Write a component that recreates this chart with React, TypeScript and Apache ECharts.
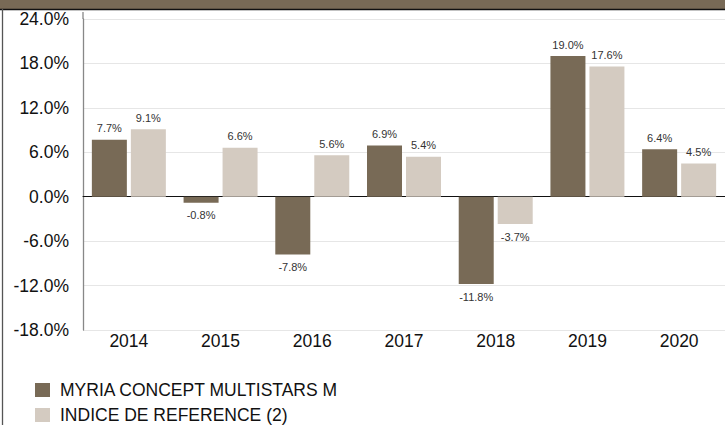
import React, { useEffect, useRef } from "react";
import * as echarts from "echarts";

const years = ["2014", "2015", "2016", "2017", "2018", "2019", "2020"];
const fundName = "MYRIA CONCEPT MULTISTARS M";
const indexName = "INDICE DE REFERENCE (2)";
const fundValues = [7.7, -0.8, -7.8, 6.9, -11.8, 19.0, 6.4];
const indexValues = [9.1, 6.6, 5.6, 5.4, -3.7, 17.6, 4.5];

const DARK = "#786a56";
const LIGHT = "#d4cbc1";
const FONT = "'Liberation Sans', Arial, sans-serif";

const toData = (vals: number[]) =>
  vals.map((v) => ({
    value: v,
    label: { position: v < 0 ? "bottom" : "top", distance: v < 0 ? 7 : 6 },
  }));

const legendBase = {
  orient: "vertical",
  left: 35,
  itemWidth: 15,
  itemHeight: 14,
  icon: "rect",
  padding: 0,
  textStyle: {
    fontSize: 17.5,
    lineHeight: 18,
    color: "#111",
    fontFamily: FONT,
    padding: [0, 0, 0, 5],
  },
};

export default function App() {
  const ref = useRef<HTMLDivElement>(null);
  useEffect(() => {
    document.body.style.margin = "0";
    const chart = echarts.init(ref.current!, null, { renderer: "svg" });
    const labelCfg = {
      show: true,
      fontSize: 11,
      color: "#333",
      fontFamily: FONT,
      formatter: (p: any) => p.value.toFixed(1) + "%",
    };
    chart.setOption({
      animation: false,
      backgroundColor: "#fff",
      textStyle: { fontFamily: FONT },
      grid: { left: 83, top: 19, width: 643, height: 311, containLabel: false },
      xAxis: {
        type: "category",
        data: years,
        axisLine: { onZero: true, lineStyle: { color: "#111", width: 1 } },
        axisTick: { show: false },
        axisLabel: {
          interval: 0,
          fontSize: 17.5,
          color: "#111",
          fontFamily: FONT,
          margin: 2,
        },
        position: "bottom",
      },
      yAxis: {
        type: "value",
        min: -18,
        max: 24,
        interval: 6,
        axisLine: { show: true, lineStyle: { color: "#888", width: 1.3 } },
        axisTick: { show: false },
        splitLine: { lineStyle: { color: "#e6e6e6", width: 1 } },
        axisLabel: {
          fontSize: 17.5,
          color: "#111",
          fontFamily: FONT,
          margin: 14,
          formatter: (v: number) => v.toFixed(1) + "%",
        },
      },
      legend: [
        { ...legendBase, top: 381, data: [fundName] },
        { ...legendBase, top: 406, data: [indexName] },
      ],
      series: [
        {
          name: fundName,
          type: "bar",
          data: toData(fundValues),
          barWidth: 35,
          barGap: "11.4%",
          itemStyle: { color: DARK },
          label: labelCfg,
        },
        {
          name: indexName,
          type: "bar",
          data: toData(indexValues),
          barWidth: 35,
          itemStyle: { color: LIGHT },
          label: labelCfg,
        },
      ],
      graphic: [
        { type: "rect", left: 0, top: 0, shape: { x: 0, y: 0, width: 725, height: 9 }, style: { fill: "#786a56" } },
        { type: "line", shape: { x1: 0, y1: 9.5, x2: 725, y2: 9.5 }, style: { stroke: "#111", lineWidth: 1.5 } },
        { type: "line", shape: { x1: 2.5, y1: 9, x2: 2.5, y2: 425 }, style: { stroke: "#555", lineWidth: 1.3 } },
        { type: "line", shape: { x1: 83, y1: 12, x2: 83, y2: 19 }, style: { stroke: "#888", lineWidth: 1.3 } },
      ],
    });
    return () => chart.dispose();
  }, []);
  return (
    <div
      ref={ref}
      style={{ position: "fixed", left: 0, top: 0, width: 725, height: 425 }}
    />
  );
}
